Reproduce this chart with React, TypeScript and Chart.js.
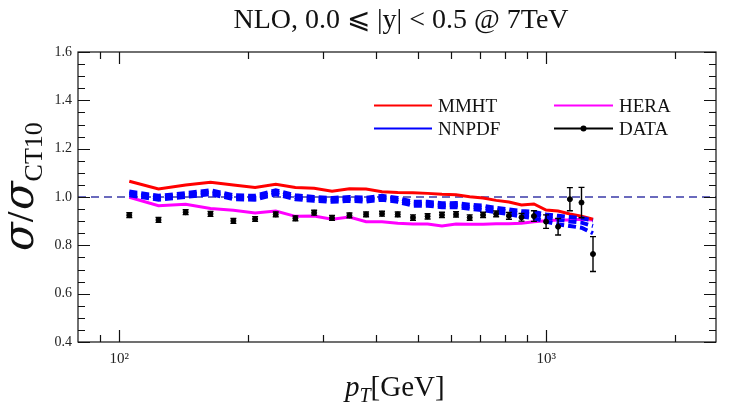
import React, { useEffect, useRef } from "react";
import { Chart, registerables } from "chart.js";
Chart.register(...registerables);

const SERIF = "'Liberation Serif', 'Times New Roman', serif";
const GREEK = "'DejaVu Serif', 'Liberation Serif', serif";
Chart.defaults.font.family = SERIF;

// pT bin centres [GeV]
const ptValues = [105.5, 123.5, 143, 163.5, 185, 208, 232.5, 258.5, 286, 315, 346, 378.5, 412.5, 449, 487.5, 527.5, 570, 615, 662, 711.5, 763.5, 818, 875.5, 936, 999.5, 1066.5, 1136.5, 1210, 1287.5];

const mmht = [1.065, 1.033, 1.05, 1.061, 1.05, 1.039, 1.053, 1.039, 1.036, 1.024, 1.034, 1.033, 1.022, 1.019, 1.018, 1.015, 1.011, 1.009, 1.001, 0.996, 0.986, 0.979, 0.967, 0.971, 0.946, 0.942, 0.93, 0.921, 0.908];

const nnpdfUp = [1.023, 1.005, 1.016, 1.028, 1.007, 1.005, 1.028, 1.007, 1.0, 0.996, 1.0, 0.997, 1.005, 0.996, 0.98, 0.98, 0.974, 0.975, 0.968, 0.964, 0.955, 0.949, 0.942, 0.938, 0.928, 0.922, 0.917, 0.913, 0.903];
const nnpdfCen = [1.015, 0.997, 1.008, 1.02, 0.999, 0.997, 1.02, 0.999, 0.992, 0.988, 0.992, 0.989, 0.997, 0.988, 0.972, 0.972, 0.966, 0.967, 0.96, 0.956, 0.947, 0.94, 0.932, 0.927, 0.915, 0.906, 0.899, 0.894, 0.88];
const nnpdfLow = [1.007, 0.989, 1.0, 1.012, 0.991, 0.989, 1.012, 0.991, 0.984, 0.98, 0.984, 0.981, 0.989, 0.98, 0.964, 0.964, 0.958, 0.958, 0.951, 0.946, 0.937, 0.929, 0.919, 0.912, 0.898, 0.887, 0.88, 0.873, 0.85];

const hera = [0.999, 0.964, 0.97, 0.952, 0.945, 0.934, 0.942, 0.92, 0.921, 0.908, 0.917, 0.898, 0.898, 0.891, 0.888, 0.888, 0.88, 0.888, 0.887, 0.887, 0.889, 0.889, 0.891, 0.898, 0.902, 0.905, 0.905, 0.908, 0.905];

const dataVals = [0.925, 0.905, 0.937, 0.93, 0.901, 0.909, 0.928, 0.912, 0.935, 0.914, 0.924, 0.928, 0.931, 0.928, 0.915, 0.92, 0.926, 0.928, 0.915, 0.926, 0.93, 0.922, 0.916, 0.921, 0.898, 0.877, 0.991, 0.977, 0.764];
const dataErr = [0.01, 0.01, 0.01, 0.01, 0.01, 0.01, 0.01, 0.01, 0.01, 0.01, 0.01, 0.01, 0.01, 0.01, 0.011, 0.011, 0.011, 0.011, 0.011, 0.011, 0.012, 0.014, 0.016, 0.022, 0.028, 0.034, 0.048, 0.063, 0.072];

const xMajorTicks = [100, 1000];
const xTickLabels = ["10\u00B2", "10\u00B3"];
const xMinorTicks = [90, 200, 300, 400, 500, 600, 700, 800, 900, 2000];
const refValue = 1.0;

const titleText = "NLO, 0.0 \u2A7D |y| < 0.5 @ 7TeV";

const pts = (ys: number[]) => ys.map((y, i) => ({ x: ptValues[i], y }));

const decor = {
  id: "decor",
  afterDatasetsDraw(chart: any) {
    const { ctx, chartArea: a, scales } = chart;
    const xs = scales.x;
    const ys = scales.y;
    ctx.save();
    // error bars
    ctx.strokeStyle = "#000";
    ctx.lineWidth = 1.4;
    dataVals.forEach((v, i) => {
      const px = xs.getPixelForValue(ptValues[i]);
      const y1 = ys.getPixelForValue(v - dataErr[i]);
      const y2 = ys.getPixelForValue(v + dataErr[i]);
      ctx.beginPath();
      ctx.moveTo(px, y1);
      ctx.lineTo(px, y2);
      ctx.moveTo(px - 3, y1);
      ctx.lineTo(px + 3, y1);
      ctx.moveTo(px - 3, y2);
      ctx.lineTo(px + 3, y2);
      ctx.stroke();
    });
    // frame
    ctx.lineWidth = 1.2;
    ctx.strokeStyle = "#111";
    ctx.strokeRect(a.left, a.top, a.right - a.left, a.bottom - a.top);
    ctx.beginPath();
    const tickX = (v: number, len: number) => {
      const px = Math.round(xs.getPixelForValue(v)) + 0.5;
      ctx.moveTo(px, a.bottom);
      ctx.lineTo(px, a.bottom - len);
      ctx.moveTo(px, a.top);
      ctx.lineTo(px, a.top + len);
    };
    xMajorTicks.forEach((v) => tickX(v, 12));
    xMinorTicks.forEach((v) => tickX(v, 7));
    for (let k = 0; k <= 24; k++) {
      const v = 0.4 + k * 0.05;
      const len = k % 4 === 0 ? 12 : 7;
      const py = Math.round(ys.getPixelForValue(v)) + 0.5;
      ctx.moveTo(a.left, py);
      ctx.lineTo(a.left + len, py);
      ctx.moveTo(a.right, py);
      ctx.lineTo(a.right - len, py);
    }
    ctx.stroke();
    ctx.restore();
  },
  afterDraw(chart: any) {
    const { ctx } = chart;
    ctx.save();
    ctx.fillStyle = "#111";
    // title
    ctx.font = `28px ${SERIF}`;
    ctx.textAlign = "center";
    ctx.textBaseline = "alphabetic";
    ctx.fillText(titleText, 393, 20);
    ctx.textAlign = "left";

    // legend
    const item = (x1: number, x2: number, y: number, col: string, label: string, tx: number, dot: boolean) => {
      ctx.strokeStyle = col;
      ctx.lineWidth = 2;
      ctx.beginPath();
      ctx.moveTo(x1, y);
      ctx.lineTo(x2, y);
      ctx.stroke();
      if (dot) {
        ctx.fillStyle = col;
        ctx.beginPath();
        ctx.arc((x1 + x2) / 2, y, 3, 0, Math.PI * 2);
        ctx.fill();
      }
      ctx.fillStyle = "#111";
      ctx.font = `19px ${SERIF}`;
      ctx.fillText(label, tx, y + 6.5);
    };
    item(366, 424, 97.5, "#ff0000", "MMHT", 430, false);
    item(366, 424, 120.5, "#0000ff", "NNPDF", 430, false);
    item(546, 605, 97.5, "#ff00ff", "HERA", 611, false);
    item(546, 605, 120.5, "#000000", "DATA", 611, true);

    // y title
    ctx.save();
    ctx.translate(25, 243);
    ctx.rotate(-Math.PI / 2);
    let cx = 0;
    const piece = (t: string, font: string, dy: number) => {
      ctx.font = font;
      ctx.fillText(t, cx, dy);
      cx += ctx.measureText(t).width;
    };
    piece("\u03C3", `italic 42px ${GREEK}`, 0);
    piece("/", `44px ${SERIF}`, 0);
    piece("\u03C3", `italic 42px ${GREEK}`, 0);
    piece("CT10", `26px ${SERIF}`, 9);
    ctx.restore();

    // x title
    cx = 337;
    const piece2 = (t: string, font: string, dy: number) => {
      ctx.font = font;
      ctx.fillText(t, cx, 388 + dy);
      cx += ctx.measureText(t).width;
    };
    piece2("p", `italic 29px ${SERIF}`, 0);
    piece2("T", `italic 20px ${SERIF}`, 6);
    piece2("[GeV]", `29px ${SERIF}`, 0);
    ctx.restore();
  },
};

export default function App() {
  const ref = useRef<HTMLCanvasElement>(null);
  useEffect(() => {
    const canvas = ref.current!;
    const chart = new Chart(canvas, {
      type: "line",
      data: {
        datasets: [
          {
            label: "DATA",
            data: pts(dataVals),
            showLine: false,
            pointRadius: 2.5,
            pointBackgroundColor: "#000",
            pointBorderColor: "#000",
            borderColor: "#000",
            order: 1,
          },
          {
            label: "NNPDF",
            data: pts(nnpdfCen),
            borderColor: "#0000ff",
            borderWidth: 4,
            borderDash: [8, 4],
            pointRadius: 0,
            order: 2,
          },
          {
            label: "NNPDF up",
            data: pts(nnpdfUp),
            borderColor: "#0000ff",
            borderWidth: 4,
            borderDash: [8, 4],
            pointRadius: 0,
            order: 3,
          },
          {
            label: "NNPDF low",
            data: pts(nnpdfLow),
            borderColor: "#0000ff",
            borderWidth: 4,
            borderDash: [8, 4],
            pointRadius: 0,
            order: 4,
          },
          {
            label: "MMHT",
            data: pts(mmht),
            borderColor: "#ff0000",
            borderWidth: 3,
            pointRadius: 0,
            order: 5,
          },
          {
            label: "HERA",
            data: pts(hera),
            borderColor: "#ff00ff",
            borderWidth: 3,
            pointRadius: 0,
            order: 6,
          },
          {
            label: "ref",
            data: [
              { x: 80, y: refValue },
              { x: 2500, y: refValue },
            ],
            borderColor: "#3a3aa8",
            borderWidth: 1.3,
            borderDash: [8, 5],
            pointRadius: 0,
            order: 10,
          },
        ],
      },
      options: {
        responsive: false,
        animation: false,
        layout: { padding: { top: 44, right: 3, left: 0, bottom: 0 } },
        plugins: {
          legend: { display: false },
          title: { display: false },
          tooltip: { enabled: false },
        },
        scales: {
          x: {
            type: "logarithmic",
            min: 80,
            max: 2500,
            grid: { display: false, drawTicks: false },
            border: { display: false },
            afterBuildTicks: (s: any) => {
              s.ticks = xMajorTicks.map((v) => ({ value: v }));
            },
            afterFit: (s: any) => {
              s.height = 60;
            },
            ticks: {
              autoSkip: false,
              maxRotation: 0,
              padding: 8,
              color: "#222",
              font: { family: SERIF, size: 15 },
              callback: (v: any) => {
                const i = xMajorTicks.indexOf(Number(v));
                return i >= 0 ? xTickLabels[i] : "";
              },
            },
          },
          y: {
            type: "linear",
            min: 0.4,
            max: 1.6,
            grid: { display: false, drawTicks: false },
            border: { display: false },
            afterFit: (s: any) => {
              s.width = 70;
            },
            ticks: {
              stepSize: 0.2,
              padding: 6,
              color: "#222",
              font: { family: SERIF, size: 14 },
              callback: (v: any) => Number(v).toFixed(1),
            },
          },
        },
      },
      plugins: [decor],
    } as any);
    return () => chart.destroy();
  }, []);
  return (
    <div style={{ width: 713, height: 394 }}>
      <canvas ref={ref} width={713} height={394} style={{ display: "block", width: 713, height: 394 }} />
    </div>
  );
}
